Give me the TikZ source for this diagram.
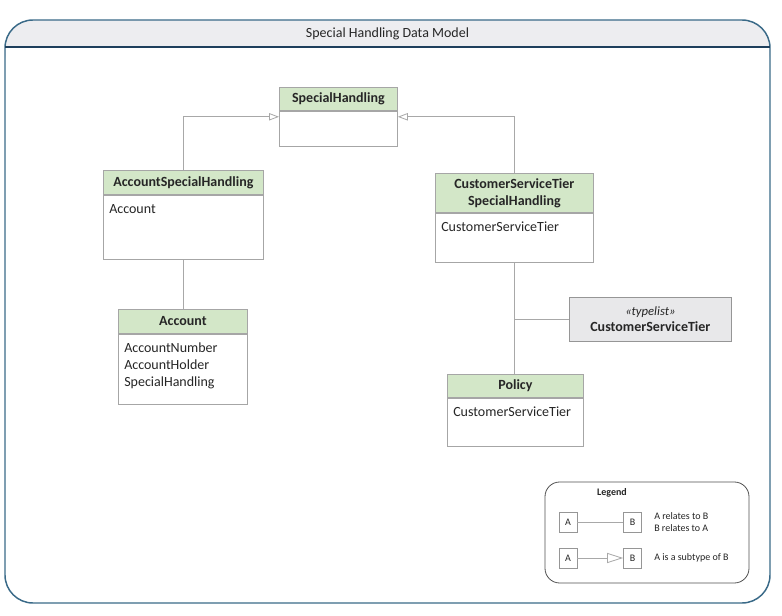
\documentclass[tikz,border=0pt]{standalone}
\usepackage{fontspec}
\setmainfont{Carlito}
\usetikzlibrary{arrows.meta}
\definecolor{hdrgreen}{HTML}{D3E7C8}
\definecolor{boxline}{HTML}{A6A6A6}
\definecolor{conn}{HTML}{A8A8A8}
\definecolor{txt}{HTML}{262626}
\definecolor{framec}{HTML}{3A6A88}
\definecolor{titlefill}{HTML}{EDEDF0}
\definecolor{titleline}{HTML}{1E3F5C}
\definecolor{typefill}{HTML}{E8E8EA}
\definecolor{typeline}{HTML}{969696}
\newcommand{\clsbox}[8]{%
  \node[hdr, minimum width=#4*0.75pt, minimum height=#5*0.75pt, anchor=north west] (#1h) at (#2,#3) {#7};
  \node[bdy, minimum width=#4*0.75pt, minimum height=#6*0.75pt, anchor=north west] (#1b) at (#1h.south west) {};
  \node[attr, anchor=base west] (#1a) at ([xshift=4.5pt,yshift=-13.8pt]#1b.north west) {\begin{tabular}[t]{@{}l@{}}#8\end{tabular}};
}
\begin{document}
\begin{tikzpicture}[x=0.75pt,y=-0.75pt,
  hdr/.style={draw=boxline, fill=hdrgreen, inner sep=0pt, font=\fontsize{10.5}{12.75}\selectfont\bfseries, text=txt, align=center, line width=0.6pt},
  bdy/.style={draw=boxline, fill=white, inner sep=0pt, line width=0.6pt},
  attr/.style={inner sep=0pt, font=\fontsize{10.5}{12.75}\selectfont, text=txt},
  gen/.style={draw=conn, line width=0.6pt, -{Triangle[open,length=7.5pt,width=5.5pt]}},
  rel/.style={draw=conn, line width=0.6pt},
  lgbox/.style={draw=typeline, fill=white, inner sep=0pt, minimum width=18*0.75pt, minimum height=20*0.75pt, font=\fontsize{7.5}{9}\selectfont, text=txt, line width=0.5pt},
  lgtxt/.style={inner sep=0pt, font=\fontsize{7.5}{9}\selectfont, text=txt, align=left, anchor=west}
]
\useasboundingbox (0,0) rectangle (782,616);
% frame
\fill[white, rounded corners=21pt] (5,20) rectangle (770,603);
\fill[titlefill, rounded corners=21pt] (5,20) rectangle (770,80);
\fill[white] (5.6,47) rectangle (769.4,82);
\draw[framec, line width=1.1pt, rounded corners=21pt] (5,20) rectangle (770,603);
\draw[titleline, line width=0.9pt] (5,47) -- (770,47);
\node[font=\fontsize{10.5}{12}\selectfont, text=txt, inner sep=0pt] (title) at (387.5,33.5) {Special Handling Data Model};

% classes
\clsbox{sh}{279}{87}{118}{23}{35}{SpecialHandling}{}
\clsbox{ash}{103}{170}{160}{24}{64}{AccountSpecialHandling}{Account}
\clsbox{acc}{118}{309}{129}{24}{70}{Account}{AccountNumber\\AccountHolder\\SpecialHandling}
\clsbox{csh}{435}{173}{158}{39}{49}{CustomerServiceTier\\SpecialHandling}{CustomerServiceTier}
\clsbox{pol}{447}{374}{136}{23}{48}{Policy}{CustomerServiceTier}
\node[draw=typeline, fill=typefill, inner sep=0pt, minimum width=162*0.75pt, minimum height=44*0.75pt, anchor=north west, align=center, text=txt, font=\fontsize{10.5}{12}\selectfont, line width=0.6pt] (tl) at (569,297) {{\itshape\fontsize{9.5}{11}\selectfont «typelist»}\\\textbf{CustomerServiceTier}};

% connectors
\draw[gen] (ashh.north) |- ([yshift=-4.5pt]shb.north west);
\draw[gen] (cshh.north) |- ([yshift=-4.5pt]shb.north east);
\draw[rel] (ashb.south) -- (ashb.south |- acch.north);
\draw[rel] (cshb.south) -- (cshb.south |- polh.north);
\draw[rel] (tl.west) -- (tl.west -| cshb.south);

% legend
\node[draw=txt!80, line width=0.6pt, rounded corners=11pt, minimum width=204*0.75pt, minimum height=101*0.75pt, inner sep=0pt] (legend) at (647,532.5) {};
\node[font=\fontsize{7.5}{9}\selectfont\bfseries, text=txt, inner sep=0pt] (legtitle) at (612,493) {Legend};
\node[lgbox] (la1) at (568,522) {A};
\node[lgbox] (lb1) at (632.5,522) {B};
\draw[rel] (la1.east) -- (lb1.west);
\node[lgtxt] (lt1) at (654,522) {A relates to B\\B relates to A};
\node[lgbox] (la2) at (568,558) {A};
\node[lgbox] (lb2) at (632.5,558) {B};
\draw[draw=conn, line width=0.6pt, -{Triangle[open,length=12pt,width=7.5pt]}] (la2.east) -- (lb2.west);
\node[lgtxt] (lt2) at (654,558) {A is a subtype of B};
\end{tikzpicture}
\end{document}
